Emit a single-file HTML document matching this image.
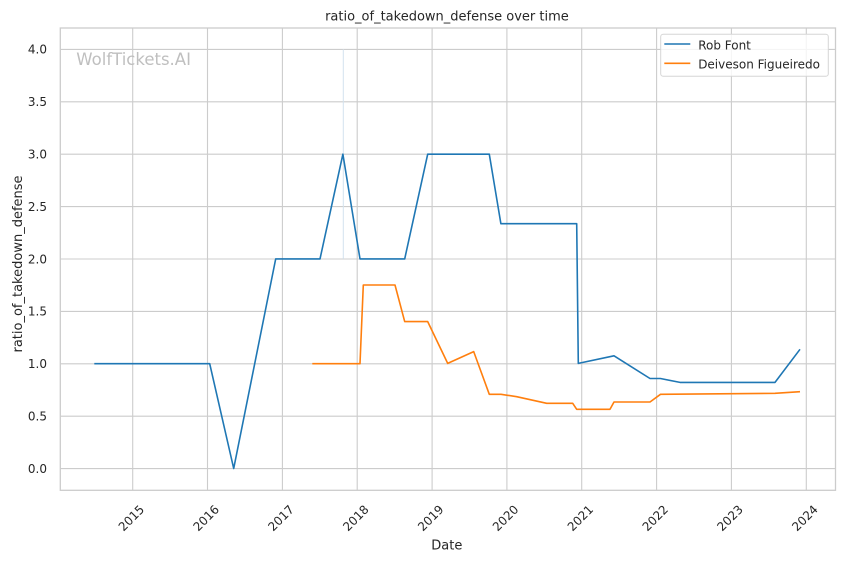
<!DOCTYPE html>
<html>
<head>
<meta charset="utf-8">
<style>
  html, body { margin: 0; padding: 0; background: #ffffff; }
  svg { display: block; }
  text { font-family: "DejaVu Sans", "Liberation Sans", sans-serif; fill: #262626; }
</style>
</head>
<body>
<svg width="844" height="561" viewBox="0 0 844 561" xmlns="http://www.w3.org/2000/svg">
  <rect x="0" y="0" width="844" height="561" fill="#ffffff"/>

  <!-- horizontal grid -->
  <g stroke="#cccccc" stroke-width="1.1" fill="none">
    <line x1="60.3" y1="468.6" x2="835.5" y2="468.6"/>
    <line x1="60.3" y1="416.2" x2="835.5" y2="416.2"/>
    <line x1="60.3" y1="363.8" x2="835.5" y2="363.8"/>
    <line x1="60.3" y1="311.4" x2="835.5" y2="311.4"/>
    <line x1="60.3" y1="259.0" x2="835.5" y2="259.0"/>
    <line x1="60.3" y1="206.6" x2="835.5" y2="206.6"/>
    <line x1="60.3" y1="154.2" x2="835.5" y2="154.2"/>
    <line x1="60.3" y1="101.8" x2="835.5" y2="101.8"/>
    <line x1="60.3" y1="49.4" x2="835.5" y2="49.4"/>
  </g>
  <!-- vertical grid -->
  <g stroke="#cccccc" stroke-width="1.1" fill="none">
    <line x1="132.7" y1="28" x2="132.7" y2="490.3"/>
    <line x1="207.5" y1="28" x2="207.5" y2="490.3"/>
    <line x1="282.4" y1="28" x2="282.4" y2="490.3"/>
    <line x1="357.2" y1="28" x2="357.2" y2="490.3"/>
    <line x1="432.1" y1="28" x2="432.1" y2="490.3"/>
    <line x1="506.9" y1="28" x2="506.9" y2="490.3"/>
    <line x1="581.7" y1="28" x2="581.7" y2="490.3"/>
    <line x1="656.6" y1="28" x2="656.6" y2="490.3"/>
    <line x1="731.4" y1="28" x2="731.4" y2="490.3"/>
    <line x1="806.3" y1="28" x2="806.3" y2="490.3"/>
  </g>

  <!-- spines -->
  <rect x="60.3" y="28" width="775.2" height="462.3" fill="none" stroke="#cccccc" stroke-width="1.3"/>

  <!-- watermark -->
  <text x="76.3" y="65" font-size="16.5" style="fill:#bfbfbf">WolfTickets.AI</text>

  <!-- faint vertical line -->
  <line x1="343.3" y1="49.4" x2="343.3" y2="258.9" stroke="#d3e2ee" stroke-width="1"/>

  <!-- series -->
  <polyline fill="none" stroke="#1f77b4" stroke-width="1.6" stroke-linejoin="round"
    points="94.3,363.7 209.7,363.7 233.7,468.5 275.7,258.9 320,258.9 342.9,154.2 360,258.9 404.7,258.9 427.7,154.2 489.3,154.2 500.9,223.7 576.7,223.7 578.3,363.4 614,355.8 650,378.5 660.4,378.5 680,382.4 775,382.4 800,349.3"/>
  <polyline fill="none" stroke="#ff7f0e" stroke-width="1.6" stroke-linejoin="round"
    points="312.3,363.7 360,363.7 363.3,285 395,285 404.7,321.6 427.7,321.6 447.7,363.4 473.7,351.6 489.3,394.3 501,394.3 516.7,396.7 546.7,403.3 572.7,403.3 576.7,409.3 610,409.3 614,402 650,402 660.5,394.3 775,393.3 800,391.7"/>

  <!-- y tick labels -->
  <g font-size="12" text-anchor="end">
    <text x="47" y="472.9">0.0</text>
    <text x="47" y="420.5">0.5</text>
    <text x="47" y="368.1">1.0</text>
    <text x="47" y="315.7">1.5</text>
    <text x="47" y="263.3">2.0</text>
    <text x="47" y="210.9">2.5</text>
    <text x="47" y="158.5">3.0</text>
    <text x="47" y="106.1">3.5</text>
    <text x="47" y="53.7">4.0</text>
  </g>

  <!-- x tick labels -->
  <g font-size="12" text-anchor="middle">
    <text transform="translate(131.2,518) rotate(-45)" x="0" y="4.3">2015</text>
    <text transform="translate(206,518) rotate(-45)" x="0" y="4.3">2016</text>
    <text transform="translate(280.9,518) rotate(-45)" x="0" y="4.3">2017</text>
    <text transform="translate(355.7,518) rotate(-45)" x="0" y="4.3">2018</text>
    <text transform="translate(430.6,518) rotate(-45)" x="0" y="4.3">2019</text>
    <text transform="translate(505.4,518) rotate(-45)" x="0" y="4.3">2020</text>
    <text transform="translate(580.2,518) rotate(-45)" x="0" y="4.3">2021</text>
    <text transform="translate(655.1,518) rotate(-45)" x="0" y="4.3">2022</text>
    <text transform="translate(729.9,518) rotate(-45)" x="0" y="4.3">2023</text>
    <text transform="translate(804.8,518) rotate(-45)" x="0" y="4.3">2024</text>
  </g>

  <!-- axis labels -->
  <text x="446.8" y="549.3" font-size="13" text-anchor="middle">Date</text>
  <text transform="translate(22,264) rotate(-90)" x="0" y="0" font-size="13" text-anchor="middle">ratio_of_takedown_defense</text>

  <!-- title -->
  <text x="446.9" y="20.7" font-size="13" text-anchor="middle">ratio_of_takedown_defense over time</text>

  <!-- legend -->
  <rect x="660.7" y="34.3" width="167.6" height="42" rx="2.5" ry="2.5" fill="#ffffff" fill-opacity="0.8" stroke="#d6d6d6" stroke-width="1"/>
  <line x1="664.3" y1="44" x2="690.3" y2="44" stroke="#1f77b4" stroke-width="1.6"/>
  <line x1="664.3" y1="63.3" x2="690.3" y2="63.3" stroke="#ff7f0e" stroke-width="1.6"/>
  <text x="698.2" y="49.3" font-size="12">Rob Font</text>
  <text x="698.2" y="68.3" font-size="12">Deiveson Figueiredo</text>
</svg>
</body>
</html>
